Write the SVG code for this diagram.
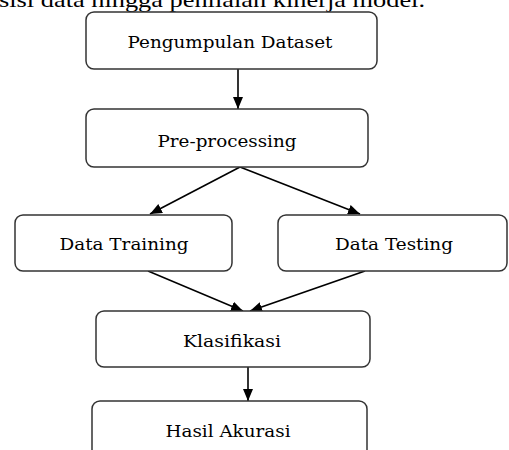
<svg xmlns="http://www.w3.org/2000/svg" width="509" height="450" viewBox="0 0 509 450">
<defs>
<marker id="ah" viewBox="0 0 12 10" refX="12" refY="5" markerWidth="12" markerHeight="10" markerUnits="userSpaceOnUse" orient="auto">
<path d="M0,0 L12,5 L0,10 Z" fill="#000"/>
</marker>
<style>
.box{fill:#fff;stroke:#333;stroke-width:1.5}
.lbl{font-family:"DejaVu Serif","Liberation Serif",serif;font-size:17px;fill:#000;text-anchor:middle}
.cap{font-family:"Liberation Serif","Times New Roman",serif;font-size:21px;fill:#000}
.conn{stroke:#000;stroke-width:1.6;fill:none;marker-end:url(#ah)}
</style>
</defs>
<rect width="509" height="450" fill="#fff"/>
<text class="cap" x="-1" y="7" textLength="426" lengthAdjust="spacingAndGlyphs">sisi data hingga penilaian kinerja model.</text>
<g id="connectors">
<line class="conn" x1="238" y1="69" x2="238" y2="109"/>
<line class="conn" x1="240" y1="167" x2="150" y2="214"/>
<line class="conn" x1="240" y1="167" x2="360" y2="214"/>
<line class="conn" x1="148" y1="271" x2="243" y2="311"/>
<line class="conn" x1="365" y1="271" x2="250" y2="311"/>
<line class="conn" x1="248" y1="367" x2="248" y2="401"/>
</g>
<g id="n1"><rect class="box" x="86" y="12" width="291" height="57" rx="8"/><text class="lbl" x="230" y="48" textLength="205" lengthAdjust="spacingAndGlyphs">Pengumpulan Dataset</text></g>
<g id="n2"><rect class="box" x="86" y="109" width="282" height="58" rx="8"/><text class="lbl" x="227" y="147" textLength="139" lengthAdjust="spacingAndGlyphs">Pre-processing</text></g>
<g id="n3"><rect class="box" x="15" y="215" width="217" height="56" rx="8"/><text class="lbl" x="124" y="250" textLength="129" lengthAdjust="spacingAndGlyphs">Data Training</text></g>
<g id="n4"><rect class="box" x="278" y="215" width="229" height="56" rx="8"/><text class="lbl" x="394" y="250" textLength="118" lengthAdjust="spacingAndGlyphs">Data Testing</text></g>
<g id="n5"><rect class="box" x="96" y="311" width="274" height="56" rx="8"/><text class="lbl" x="232" y="347" textLength="98" lengthAdjust="spacingAndGlyphs">Klasifikasi</text></g>
<g id="n6"><rect class="box" x="92" y="401" width="275" height="60" rx="8"/><text class="lbl" x="228" y="437" textLength="125" lengthAdjust="spacingAndGlyphs">Hasil Akurasi</text></g>
</svg>
